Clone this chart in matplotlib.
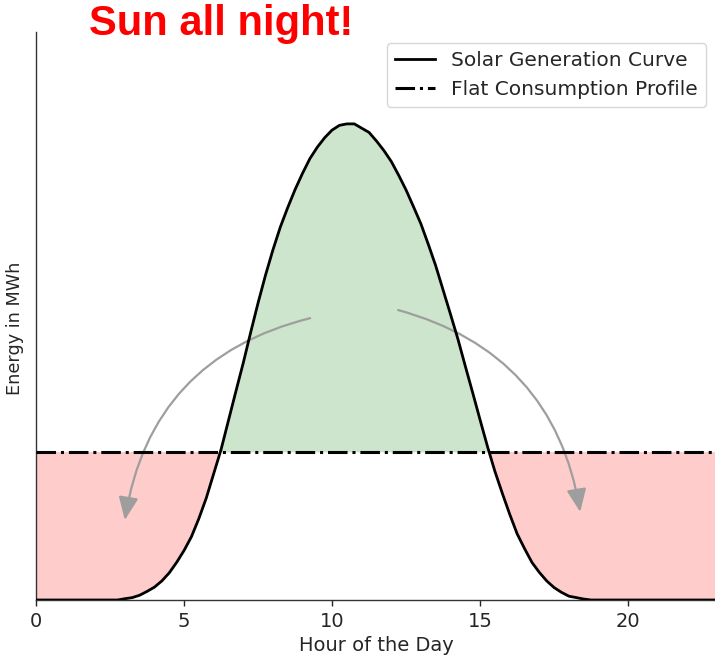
import numpy as np
import matplotlib
matplotlib.use("Agg")
import matplotlib.pyplot as plt

# ---- data ----
hours = np.arange(0, 23.01, 0.25)
solar_mwh = [
    0, 0, 0, 0, 0, 0, 0, 0, 0, 0, 0, 0,                 # 0.00 - 2.75
    0.27, 0.5, 1.0, 1.8, 2.7, 4.0, 5.7, 7.9,            # 3.00 - 4.75
    10.4, 13.3, 17.1, 21.4, 26.5, 31.6, 37.7, 43.8,     # 5.00 - 6.75
    49.8, 56.2, 62.4, 68.2, 73.5, 78.3, 82.4, 86.2,     # 7.00 - 8.75
    89.6, 92.7, 95.1, 97.1, 98.7, 99.7, 100.0, 100.0,   # 9.00 - 10.75
    99.1, 98.2, 96.4, 94.4, 92.1, 89.2, 86.1, 82.6,     # 11.00 - 12.75
    79.0, 74.7, 70.2, 65.1, 60.0, 54.8, 49.1, 43.5,     # 13.00 - 14.75
    37.8, 32.2, 27.0, 22.4, 18.0, 13.9, 10.8, 7.9,      # 15.00 - 16.75
    5.8, 4.0, 2.6, 1.6, 0.8, 0.5, 0.2, 0,               # 17.00 - 18.75
    0, 0, 0, 0, 0, 0, 0, 0, 0, 0, 0, 0, 0, 0, 0, 0, 0,  # 19.00 - 23.00
]
consumption_mwh = 31.1
x_ticks = [0, 5, 10, 15, 20]

solar = np.array(solar_mwh, dtype=float)
consumption = np.full_like(hours, consumption_mwh)

text_color = "#262626"

fig = plt.figure(figsize=(7.15, 6.67), dpi=100)
ax = fig.add_axes([36 / 715, 67 / 667, (717 - 36) / 715, (600 - 32) / 667])

ax.fill_between(hours, consumption, solar, where=solar >= consumption,
                interpolate=True, color="green", alpha=0.2, linewidth=0)
ax.fill_between(hours, solar, consumption, where=solar <= consumption,
                interpolate=True, color="red", alpha=0.2, linewidth=0)

ax.plot(hours, solar, color="black", lw=2.0, label="Solar Generation Curve",
        solid_joinstyle="round", zorder=4)
ax.plot(hours, consumption, color="black", lw=2.2, linestyle="-.",
        label="Flat Consumption Profile", zorder=4)

arrow_kw = dict(arrowstyle="-|>,head_length=0.7,head_width=0.3",
                color="#9e9e9e", lw=1.6, mutation_scale=20, shrinkA=0, shrinkB=0)
ax.annotate("", xy=(3.0, 16.8), xytext=(9.26, 59.2),
            arrowprops=dict(connectionstyle="arc3,rad=0.33", **arrow_kw))
ax.annotate("", xy=(18.38, 18.5), xytext=(12.23, 60.9),
            arrowprops=dict(connectionstyle="arc3,rad=-0.32", **arrow_kw))

ax.set_xlim(0, 23)
ax.set_ylim(0, 119.3)
ax.set_xticks(x_ticks)
ax.set_yticks([])
ax.tick_params(axis="x", labelsize=14, colors=text_color, length=4.5, width=1, pad=4)
for s in ["top", "right"]:
    ax.spines[s].set_visible(False)
ax.spines["left"].set_color("#333333")
ax.spines["bottom"].set_color("#333333")
ax.spines["left"].set_linewidth(1.0)
ax.spines["bottom"].set_linewidth(1.0)

ax.set_xlabel("Hour of the Day", fontsize=14, color=text_color, labelpad=4)
ax.set_ylabel("Energy in MWh", fontsize=12.7, color=text_color)
ax.yaxis.set_label_coords(-0.017, 0.479)

leg = ax.legend(loc="upper right", fontsize=14.5, frameon=True,
                borderaxespad=0.55)
for t in leg.get_texts():
    t.set_color(text_color)

fig.text(89 / 715, 1 - 35 / 667, "Sun all night!", color="red", fontsize=30,
         fontweight="bold", family="Liberation Sans", va="baseline", ha="left")

fig.savefig("out.png", dpi=100)
